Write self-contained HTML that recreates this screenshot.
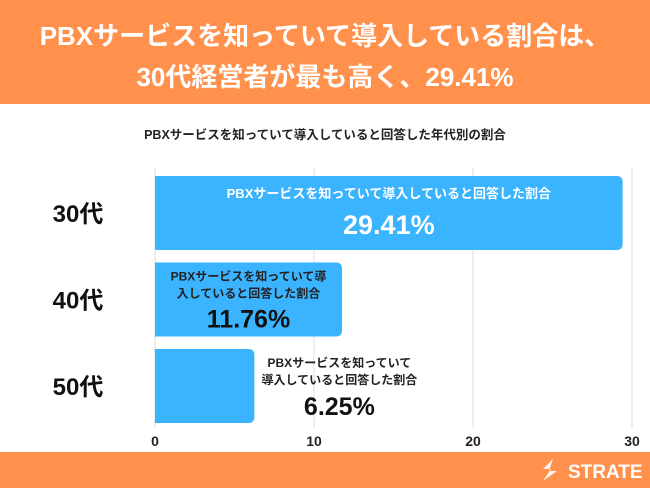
<!DOCTYPE html>
<html><head><meta charset="utf-8"><style>
body{margin:0;width:650px;height:488px;overflow:hidden;background:#fff;font-family:"Liberation Sans","Noto Sans CJK JP",sans-serif}
svg text{font-family:"Liberation Sans","Noto Sans CJK JP",sans-serif;font-weight:bold}
</style></head><body>
<svg width="650" height="488">
<rect x="0" y="0" width="650" height="104" fill="#FF914D"/>
<text x="325" y="45" text-anchor="middle" font-size="26" fill="#fff">PBXサービスを知っていて導入している割合は、</text>
<text x="325" y="86" text-anchor="middle" font-size="26" fill="#fff">30代経営者が最も高く、29.41%</text>
<text x="325" y="139" text-anchor="middle" font-size="12.5" fill="#222">PBXサービスを知っていて導入していると回答した年代別の割合</text>
<g id="grid"></g><g id="bars"></g>
<rect x="0" y="452" width="650" height="36" fill="#FF914D"/>
<g>
<path d="M553 459 l-10 10 l8 0 l-8 12 l14 -10 l-8 0 z" fill="#fff" opacity="0.9"/>
<text x="568" y="478" font-size="19" fill="#fff">STRATE</text>
</g>
</svg>
<script>
const categories=["30代","40代","50代"];
const values=[29.41,11.76,6.25];
const valueLabels=["29.41%","11.76%","6.25%"];
const ticks=[0,10,20,30];
const x0=155,x1=632,bandTop=176,bandStep=86.5,barH=74;
const xs=v=>x0+(v/30)*(x1-x0);
const ns="http://www.w3.org/2000/svg";
const grid=document.getElementById('grid'),bars=document.getElementById('bars');
function mk(tag,attrs,parent,txt){const e=document.createElementNS(ns,tag);for(const k in attrs)e.setAttribute(k,attrs[k]);if(txt!==undefined)e.textContent=txt;parent.appendChild(e);return e;}
ticks.forEach(t=>{
 const l=mk('line',{x1:xs(t),x2:xs(t),y1:168,y2:428,stroke:'#ddd','stroke-width':1},grid);
 
 
 const tx=mk('text',{x:xs(t),y:446,'text-anchor':'middle','font-size':14,fill:'#222'},grid,String(t));
 
 
});
categories.forEach((c,i)=>{
 const y=bandTop+i*bandStep,w=xs(values[i])-x0;
 const r=mk('path',{d:`M${x0} ${y} h${w-6} q6 0 6 6 v${barH-12} q0 6 -6 6 h${-(w-6)} z`,fill:'#3BB4FF'},bars);
 
 
 const cl=mk('text',{x:78,y:y+barH/2+9,'text-anchor':'middle','font-size':24,fill:'#111'},bars,c);
 
 
 let g=mk('g',{},bars);
 
 
 if(i===0){
  const cx=x0+w/2;
  mk('text',{x:cx,y:y+22,'text-anchor':'middle','font-size':13,fill:'#fff'},g,'PBXサービスを知っていて導入していると回答した割合');
  mk('text',{x:cx,y:y+58,'text-anchor':'middle','font-size':27,fill:'#fff'},g,valueLabels[i]);
 }else if(i===1){
  const cx=x0+w/2;
  mk('text',{x:cx,y:y+18,'text-anchor':'middle','font-size':12,fill:'#222'},g,'PBXサービスを知っていて導');
  mk('text',{x:cx,y:y+35,'text-anchor':'middle','font-size':12,fill:'#222'},g,'入していると回答した割合');
  mk('text',{x:cx,y:y+65,'text-anchor':'middle','font-size':25,fill:'#111'},g,valueLabels[i]);
 }else{
  const cx=xs(values[i])+85;
  mk('text',{x:cx,y:y+18,'text-anchor':'middle','font-size':12,fill:'#222'},g,'PBXサービスを知っていて');
  mk('text',{x:cx,y:y+35,'text-anchor':'middle','font-size':12,fill:'#222'},g,'導入していると回答した割合');
  mk('text',{x:cx,y:y+66,'text-anchor':'middle','font-size':25,fill:'#111'},g,valueLabels[i]);
 }
});
</script>
</body></html>
